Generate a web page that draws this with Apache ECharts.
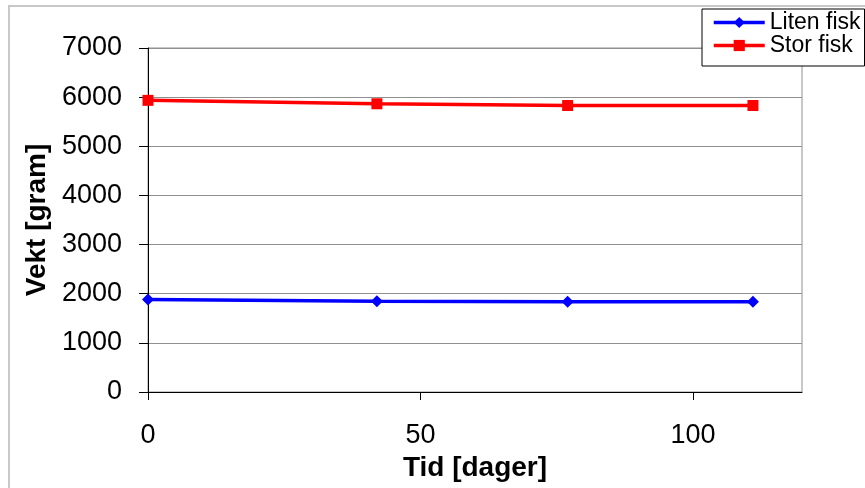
<!DOCTYPE html>
<html>
<head>
<meta charset="utf-8">
<script src="https://cdn.jsdelivr.net/npm/echarts@6/dist/echarts.min.js"></script>
<style>
html,body{margin:0;padding:0;background:#fff;}
#chart{width:865px;height:488px;}
</style>
</head>
<body>
<div id="chart"></div>
<script>
const days = [0, 42, 77, 111];
const litenFisk = [1880, 1845, 1835, 1835];
const storFisk = [5935, 5865, 5830, 5830];
const xTicks = [0, 50, 100];
const seriesNames = ['Liten fisk', 'Stor fisk'];
const xTitle = 'Tid [dager]';
const yTitle = 'Vekt [gram]';

const FONT = 'Liberation Sans, Arial, sans-serif';
const chart = echarts.init(document.getElementById('chart'));

function pairs(xs, ys) { return xs.map((x, i) => [x, ys[i]]); }

chart.setOption({
  animation: false,
  backgroundColor: '#fff',
  graphic: [{
    type: 'rect', shape: { x: 9, y: 6, width: 900, height: 600 },
    style: { fill: 'none', stroke: '#c8c8c8', lineWidth: 2 }, z: -1
  }],
  grid: {
    left: 148, right: 63, top: 48, bottom: 96,
    show: true, borderColor: '#909090', borderWidth: 1, backgroundColor: 'transparent'
  },
  legend: {
    data: seriesNames,
    orient: 'vertical',
    left: 702, top: 9,
    padding: [2, 4, 9, 10],
    itemGap: 0,
    itemWidth: 51, itemHeight: 14,
    lineStyle: { width: 3.5 },
    backgroundColor: '#fff',
    borderColor: '#000', borderWidth: 1,
    textStyle: { fontFamily: FONT, fontSize: 23, color: '#000', lineHeight: 23, padding: [0, 0, 0, 0] }
  },
  xAxis: {
    type: 'value', min: 0, max: 120, interval: 50,
    name: xTitle, nameLocation: 'middle', nameGap: 62,
    nameTextStyle: { fontFamily: FONT, fontSize: 28, fontWeight: 'bold', color: '#000' },
    axisLine: { show: true, onZero: false, lineStyle: { color: '#000', width: 1 } },
    axisTick: { show: true, customValues: xTicks, length: 8, inside: false, lineStyle: { color: '#000' } },
    axisLabel: { customValues: xTicks, margin: 30, fontFamily: FONT, fontSize: 27, color: '#000' },
    splitLine: { show: false }
  },
  yAxis: {
    type: 'value', min: 0, max: 7000, interval: 1000,
    name: yTitle, nameLocation: 'middle', nameGap: 92, nameRotate: 90,
    nameTextStyle: { fontFamily: FONT, fontSize: 28, fontWeight: 'bold', color: '#000' },
    axisLine: { show: true, lineStyle: { color: '#000', width: 1 } },
    axisTick: { show: true, length: 9, inside: false, lineStyle: { color: '#000' } },
    axisLabel: { margin: 26, fontFamily: FONT, fontSize: 27, color: '#000', formatter: v => String(v) },
    splitLine: { show: true, lineStyle: { color: '#909090', width: 1 } }
  },
  series: [
    {
      name: seriesNames[0], type: 'line', data: pairs(days, litenFisk),
      symbol: 'diamond', symbolSize: 12,
      lineStyle: { color: '#0000ff', width: 3.5 },
      itemStyle: { color: '#0000ff' }
    },
    {
      name: seriesNames[1], type: 'line', data: pairs(days, storFisk),
      symbol: 'rect', symbolSize: 11,
      lineStyle: { color: '#ff0000', width: 3.5 },
      itemStyle: { color: '#ff0000' }
    }
  ]
});
</script>
</body>
</html>
